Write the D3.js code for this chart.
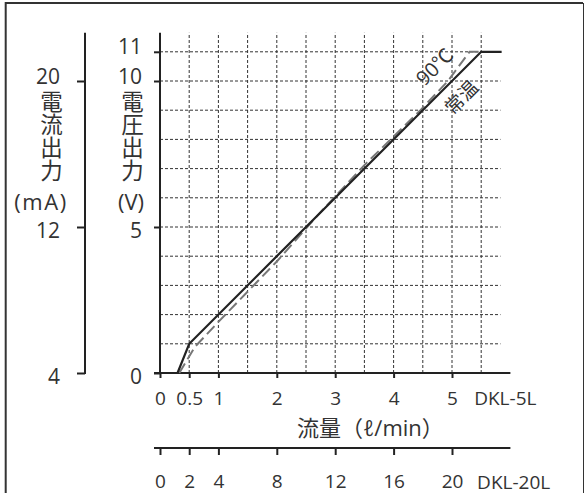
<!DOCTYPE html>
<html>
<head>
<meta charset="utf-8">
<script src="https://cdn.jsdelivr.net/npm/d3@7"></script>
<style>
  body { margin: 0; background: #fff; }
  svg text { font-family: "Open Sans", "Noto Sans CJK JP", sans-serif; fill: #333; }
</style>
</head>
<body>
<div class="chart"></div>
<script>
// values
const voltTicks = [0, 5, 10, 11];
const mATicks = [4, 12, 20];
const flow5Ticks = [0, 0.5, 1, 2, 3, 4, 5];
const flow20Ticks = [0, 2, 4, 8, 12, 16, 20];
const gridFlow = [0.5, 1, 1.5, 2, 2.5, 3, 3.5, 4, 4.5, 5, 5.5];
const gridVolt = [1, 2, 3, 4, 5, 6, 7, 8, 9, 10, 11];

// room temperature line (solid)
const normalFlow = [0.3, 0.5, 5.5, 5.85];
const normalVolt = [0, 1, 11, 11];
// 90 C line (grey dashes)
const hotFlow = [0.33, 0.6, 1, 2, 2.7, 3.5, 4.46, 4.93, 5.3, 5.5];
const hotVolt = [0, 0.9, 1.75, 3.82, 5.4, 7.12, 9, 10, 11, 11];

const width = 585;
const height = 493;

const svg = d3.select('.chart')
    .append('svg')
    .attr('width', width)
    .attr('height', height);

// outer frame, bottom edge is cut off in the original
svg.append('path')
    .attr('d', `M5.7,${height + 5}V3H583`)
    .attr('fill', 'none')
    .attr('stroke', '#333')
    .attr('stroke-width', 2);
svg.append('line')
    .attr('x1', 583.5).attr('x2', 583.5)
    .attr('y1', 3).attr('y2', height)
    .attr('stroke', '#333')
    .attr('stroke-width', 1);

const xScale = d3.scaleLinear()
    .domain([0, 6])
    .range([160, 510.4]);

const x20Scale = d3.scaleLinear()
    .domain([0, 24])
    .range(xScale.range());

const yScale = d3.scaleLinear()
    .domain([0, 11])
    .range([373, 51.8]);

const mAScale = d3.scaleLinear()
    .domain([4, 20])
    .range([yScale(0), yScale(10)]);

const topV = 11.65;
const gridEnd = 5.83;

// dashed grid
svg.selectAll('.vgrid')
    .data(gridFlow)
    .enter()
    .append('line')
    .attr('x1', d => xScale(d)).attr('x2', d => xScale(d))
    .attr('y1', yScale(0)).attr('y2', yScale(topV))
    .attr('stroke', '#333')
    .attr('stroke-width', 1)
    .attr('stroke-dasharray', '3,2');

svg.selectAll('.hgrid')
    .data(gridVolt)
    .enter()
    .append('line')
    .attr('x1', xScale(0)).attr('x2', xScale(gridEnd))
    .attr('y1', d => yScale(d)).attr('y2', d => yScale(d))
    .attr('stroke', '#333')
    .attr('stroke-width', 1)
    .attr('stroke-dasharray', '3,2');

// label nudges so 10/11 sit above their ticks like the original
function nudge(sel, topVal) {
    sel.selectAll('.tick text')
        .attr('transform', d => d >= topVal ? 'translate(0,-4.7)' : 'translate(0,3.5)');
}

function styleAxis(g, size) {
    g.select('.domain').remove();
    g.selectAll('.tick line').attr('stroke', '#222').attr('stroke-width', 2);
    g.selectAll('.tick text').attr('font-size', size).attr('fill', '#333');
}

// voltage axis
const yAxis = d3.axisLeft(yScale)
    .tickValues(voltTicks)
    .tickSize(6)
    .tickPadding(12)
    .tickFormat(d3.format('d'));

const gy = svg.append('g')
    .attr('transform', `translate(${xScale(0)},0)`)
    .call(yAxis)
    .call(g => styleAxis(g, 21))
    .call(g => nudge(g, 10));

gy.append('line')
    .attr('y1', yScale(0) + 1).attr('y2', yScale(topV))
    .attr('stroke', '#222').attr('stroke-width', 2);

// current axis
const mAAxis = d3.axisLeft(mAScale)
    .tickValues(mATicks)
    .tickSize(8)
    .tickPadding(17);

const gm = svg.append('g')
    .attr('transform', 'translate(85,0)')
    .call(mAAxis)
    .call(g => styleAxis(g, 21))
    .call(g => nudge(g, 20));

gm.append('line')
    .attr('y1', yScale(0) + 1).attr('y2', yScale(topV))
    .attr('stroke', '#222').attr('stroke-width', 2);

// DKL-5L flow axis
const xAxis = d3.axisBottom(xScale)
    .tickValues(flow5Ticks)
    .tickSize(5)
    .tickPadding(13.5)
    .tickFormat(d => d);

const gx = svg.append('g')
    .attr('transform', `translate(0,${yScale(0)})`)
    .call(xAxis)
    .call(g => styleAxis(g, 19));

gx.append('line')
    .attr('x1', xScale(0) - 6).attr('x2', xScale(6))
    .attr('stroke', '#222').attr('stroke-width', 2);

gx.append('text')
    .attr('x', xScale(5.38))
    .attr('y', 32)
    .attr('text-anchor', 'start')
    .attr('font-size', 19)
    .text('DKL-5L');

// DKL-20L flow axis
const x20Axis = d3.axisBottom(x20Scale)
    .tickValues(flow20Ticks)
    .tickSize(7)
    .tickPadding(20);

const gx20 = svg.append('g')
    .attr('transform', 'translate(0,448)')
    .call(x20Axis)
    .call(g => styleAxis(g, 19));

gx20.append('line')
    .attr('x1', xScale(0) - 6).attr('x2', xScale(6))
    .attr('stroke', '#222').attr('stroke-width', 2);

gx20.append('text')
    .attr('x', xScale(5.43))
    .attr('y', 40.5)
    .attr('text-anchor', 'start')
    .attr('font-size', 19)
    .text('DKL-20L');

// vertical japanese titles, set in vertical writing mode
function vertLabel(title, cx, unit) {
    svg.append('text')
        .attr('x', cx)
        .attr('y', 90)
        .attr('writing-mode', 'vertical-rl')
        .attr('font-size', 22.5)
        .attr('letter-spacing', 0.5)
        .text(title);
    svg.append('text')
        .attr('x', cx - (unit.length > 3 ? 9 : 0))
        .attr('y', 201)
        .attr('text-anchor', 'middle')
        .attr('dominant-baseline', 'central')
        .attr('font-size', 22)
        .attr('letter-spacing', unit.length > 3 ? 1.5 : 0)
        .text(unit);
}
vertLabel('電流出力', 50, '(mA)');
vertLabel('電圧出力', 131, '(V)');

svg.append('text')
    .attr('x', 297)
    .attr('y', 436)
    .attr('font-size', 22)
    .text('流量（ℓ∕min）');

// curves
const line = d3.line()
    .x(d => xScale(d[0]))
    .y(d => yScale(d[1]));

svg.append('path')
    .datum(d3.zip(hotFlow, hotVolt))
    .attr('fill', 'none')
    .attr('stroke', '#777')
    .attr('stroke-width', 2)
    .attr('stroke-dasharray', '11,5')
    .attr('d', line);

svg.append('path')
    .datum(d3.zip(normalFlow, normalVolt))
    .attr('fill', 'none')
    .attr('stroke', '#222')
    .attr('stroke-width', 2.2)
    .attr('d', line);

// curve labels along the 45 degree lines
svg.append('text')
    .attr('transform', `translate(${xScale(4.7)},${yScale(10.5)}) rotate(-45)`)
    .attr('text-anchor', 'middle')
    .attr('dominant-baseline', 'central')
    .attr('font-size', 20)
    .attr('fill', '#444')
    .text('90℃');

svg.append('text')
    .attr('transform', `translate(${xScale(5.16)},${yScale(9.45)}) rotate(-45)`)
    .attr('text-anchor', 'middle')
    .attr('dominant-baseline', 'central')
    .attr('font-size', 19)
    .attr('fill', '#444')
    .text('常温');
</script>
</body>
</html>
